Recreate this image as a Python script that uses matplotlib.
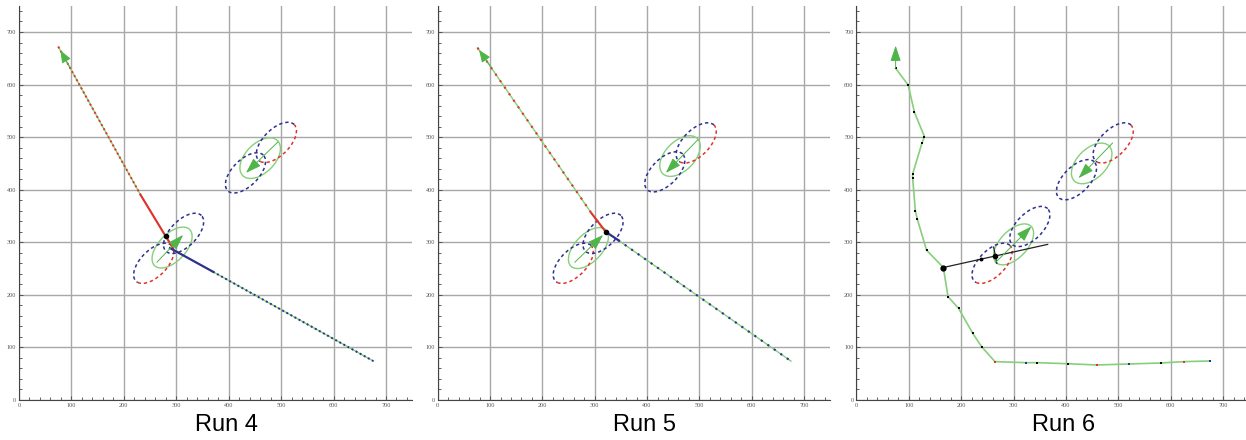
import matplotlib
matplotlib.use("Agg")
import matplotlib.pyplot as plt
from matplotlib.patches import Ellipse, Arc
from matplotlib.ticker import MultipleLocator

GREEN_LINE = "#86d07a"
GREEN_HEAD = "#4fb548"
NAVY = "#2d3190"
RED = "#e3322c"
GRID = "#a8a8a8"

titles = ["Run 4", "Run 5", "Run 6"]

# run 4 tracks (red comes in from the top left, blue from the bottom right)
r4_red_x = [75, 232, 280, 289, 294]
r4_red_y = [672, 390, 311, 297, 288]
r4_blue_x = [288, 370, 676]
r4_blue_y = [289, 244, 74]

# run 5 tracks
r5_red_x = [76, 294, 321]
r5_red_y = [670, 355, 320]
r5_blue_x = [321, 345, 675]
r5_blue_y = [320, 304, 74]

# run 6 path and the colour of each sample on it
r6_x = [75, 99, 111, 130, 125, 107.5, 107.5, 112.6, 116.4, 134, 166, 175, 195,
        222, 239, 264.5, 323.7, 345, 404, 458.5, 520, 580.6, 625.6, 674.6]
r6_y = [631, 599, 547, 501, 488, 430, 422, 360, 344, 285, 252, 196.5, 174.4,
        127, 101.4, 73, 71, 71, 69, 66.6, 68.5, 70.4, 73, 74.2]
r6_colors = ["k"] * 15 + [RED, NAVY, "k", "k", RED, NAVY, "k", RED, NAVY]
r6_black_x = [166, 365]
r6_black_y = [252, 296]
r6_black_dots = [(264.5, 274), (238, 268)]
r6_heading_x = [262, 268]
r6_heading_y = [291, 260]

# meeting point of each run
meet = [(280, 311), (321.6, 320), (166, 252)]

# ellipse centres: lower and upper groups
green_lo = [(292, 290), (288, 289), (300, 296)]
green_hi = [(460, 460), (463, 464), (449, 450)]
dash_lo = [[(257, 260), (314, 317)], [(259, 260), (316, 317)], [(259, 260), (331, 330)]]
dash_hi = [[(432, 432), (491, 490)], [(434, 434), (494, 489)], [(420, 419), (490, 489)]]

# green arrows (tail, tip)
arrow_lo = [((263, 262), (313, 314)), ((262, 262), (316, 314)), ((265, 261), (334, 330))]
arrow_hi = [((494, 491), (433, 432)), ((497, 495), (436, 432)), ((489, 489), (424, 422))]
arrow_top = [((97, 633), (79, 665)), ((102, 633), (79, 666)), ((75, 631), (75, 674))]

DASH = (0, (2.2, 1.9))


def dashed_ellipse(ax, c, split):
    w, h = 96, 50
    if split:
        ax.add_patch(Arc(c, w, h, angle=45, theta1=0, theta2=185,
                         color=NAVY, lw=1.1, ls=DASH))
        ax.add_patch(Arc(c, w, h, angle=45, theta1=185, theta2=360,
                         color=RED, lw=1.1, ls=DASH))
    else:
        ax.add_patch(Arc(c, w, h, angle=45, theta1=0, theta2=360,
                         color=NAVY, lw=1.1, ls=DASH))


def green_arrow(ax, tail, tip, big=False):
    hl, hw = (0.95, 0.32) if big else (0.75, 0.3)
    ax.annotate("", xy=tip, xytext=tail,
                arrowprops=dict(arrowstyle=f"-|>,head_length={hl},head_width={hw}",
                                color=GREEN_HEAD, lw=0.7, shrinkA=0, shrinkB=0,
                                mutation_scale=10))


def setup(ax, title):
    ax.set_xlim(0, 750)
    ax.set_ylim(0, 750)
    ax.xaxis.set_major_locator(MultipleLocator(100))
    ax.yaxis.set_major_locator(MultipleLocator(100))
    ax.xaxis.set_minor_locator(MultipleLocator(20))
    ax.yaxis.set_minor_locator(MultipleLocator(20))
    ax.grid(True, which="major", color=GRID, lw=1.0)
    ax.set_axisbelow(True)
    for s in ("top", "right"):
        ax.spines[s].set_visible(False)
    for s in ("left", "bottom"):
        ax.spines[s].set_color("#444444")
        ax.spines[s].set_linewidth(0.8)
    ax.tick_params(which="both", direction="in", color="#444444", width=0.6,
                   labelsize=4.5, labelcolor="#555555", pad=2)
    ax.tick_params(which="major", length=3)
    ax.tick_params(which="minor", length=2)
    for lab in ax.get_xticklabels() + ax.get_yticklabels():
        lab.set_family("Liberation Serif")
    ax.text(395, -0.063, title, transform=ax.get_xaxis_transform(),
            ha="center", va="center", fontsize=17, family="Liberation Sans")


def ellipses(ax, i):
    ax.add_patch(Ellipse(green_lo[i], 96, 52, angle=46, fill=False,
                         ec=GREEN_LINE, lw=1.0))
    ax.add_patch(Ellipse(green_hi[i], 94, 56, angle=45, fill=False,
                         ec=GREEN_LINE, lw=1.0))
    dashed_ellipse(ax, dash_lo[i][0], True)
    dashed_ellipse(ax, dash_lo[i][1], False)
    dashed_ellipse(ax, dash_hi[i][0], False)
    dashed_ellipse(ax, dash_hi[i][1], True)
    green_arrow(ax, *arrow_lo[i], big=True)
    green_arrow(ax, *arrow_hi[i], big=True)


fig = plt.figure(figsize=(12.46, 4.4), dpi=100)
lefts = [19, 437.7, 856.3]
widths = [393.2, 392.5, 393.2]
axes = [fig.add_axes([l / 1246, 40 / 440, w / 1246, 394.3 / 440])
        for l, w in zip(lefts, widths)]

for ax, t in zip(axes, titles):
    setup(ax, t)

# run 4
ax = axes[0]
ax.plot(r4_red_x, r4_red_y, color=GREEN_LINE, lw=1.0)
ax.plot(r4_blue_x, r4_blue_y, color=GREEN_LINE, lw=1.0)
ax.plot(r4_red_x[:2], r4_red_y[:2], color=RED, lw=1.4, ls=(0, (1, 1.4)))
ax.plot(r4_red_x[1:], r4_red_y[1:], color=RED, lw=1.5)
ax.plot(r4_blue_x[1:], r4_blue_y[1:], color=NAVY, lw=1.4, ls=(0, (1, 1.4)))
ax.plot(r4_blue_x[:2], r4_blue_y[:2], color=NAVY, lw=1.6)

# run 5
ax = axes[1]
ax.plot(r5_red_x, r5_red_y, color=GREEN_LINE, lw=1.0)
ax.plot(r5_blue_x, r5_blue_y, color=GREEN_LINE, lw=1.0)
ax.plot(r5_red_x[:2], r5_red_y[:2], color=RED, lw=1.5, ls=(0, (1, 2.8)))
ax.plot(r5_red_x[1:], r5_red_y[1:], color=RED, lw=1.5)
ax.plot(r5_blue_x[1:], r5_blue_y[1:], color=NAVY, lw=1.5, ls=(0, (1, 2.8)))
ax.plot(r5_blue_x[:2], r5_blue_y[:2], color=NAVY, lw=1.6)

# run 6
ax = axes[2]
ax.plot(r6_x, r6_y, color=GREEN_LINE, lw=1.2)
for x, y, c in zip(r6_x, r6_y, r6_colors):
    ax.plot(x, y, "s", color=c, ms=1.8, mew=0)
ax.plot(r6_black_x, r6_black_y, color="#222222", lw=0.9)
ax.plot(r6_heading_x, r6_heading_y, color="#222222", lw=0.9)
for x, y in r6_black_dots:
    ax.plot(x, y, "o", color="k", ms=3 if x > 250 else 1.8)

for i, ax in enumerate(axes):
    ellipses(ax, i)
    green_arrow(ax, *arrow_top[i], big=(i == 2))
    ax.plot(*meet[i], "o", color="k", ms=3.5 if i == 2 else 3)

fig.savefig("out.png", dpi=100)
